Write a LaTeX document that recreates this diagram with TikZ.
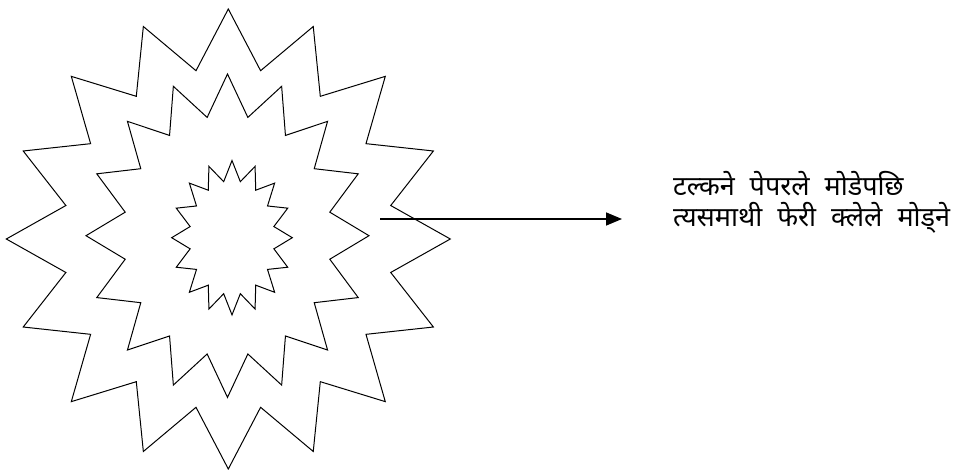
\documentclass[tikz,border=0pt]{standalone}
\usepackage{fontspec}
\usepackage{tikz}
\usetikzlibrary{arrows.meta,positioning}
\newfontfamily\devfont[Script=Devanagari]{Noto Sans}
\newcommand\notefont{\devfont\fontsize{27}{31}\selectfont\spaceskip=15pt\relax}
\tikzset{
  starline/.style={line width=1pt,line join=miter,black},
  pointer/.style={line width=1.6pt,-{Triangle[length=16pt,width=13pt]}},
  note/.style={align=left,anchor=base west,inner sep=0pt,font=\notefont}
}

\begin{document}
\begin{tikzpicture}[x=1pt,y=-1pt]
      \useasboundingbox (0,0) rectangle (976,470);
      % three sixteen-pointed stars: cx/cy/Rx/Ry/rx/ry
      \foreach \cx/\cy/\Rx/\Ry/\rx/\ry in {228.3/239/222/230/165.6/171.6,
                                          227.5/235.7/141.5/161.7/104.3/120.6,
                                          232/237.7/60.3/77.2/42.7/57.1}
        \draw[starline] plot[samples=32,domain=0:31,variable=\t]
          ({\cx+ifthenelse(mod(\t,2)==0,\Rx,\rx)*sin(\t*11.25)},
           {\cy-ifthenelse(mod(\t,2)==0,\Ry,\ry)*cos(\t*11.25)}) -- cycle;
      \coordinate (arrowstart) at (380,219);
      \coordinate (arrowtip) at (622,219);
      \draw[pointer] (arrowstart) -- (arrowtip);
      \node[note] (caption) at (673,226)
        {टल्कने पेपरले मोडेपछि\\त्यसमाथी फेरी क्लेले मोड्ने};
\end{tikzpicture}
\end{document}
